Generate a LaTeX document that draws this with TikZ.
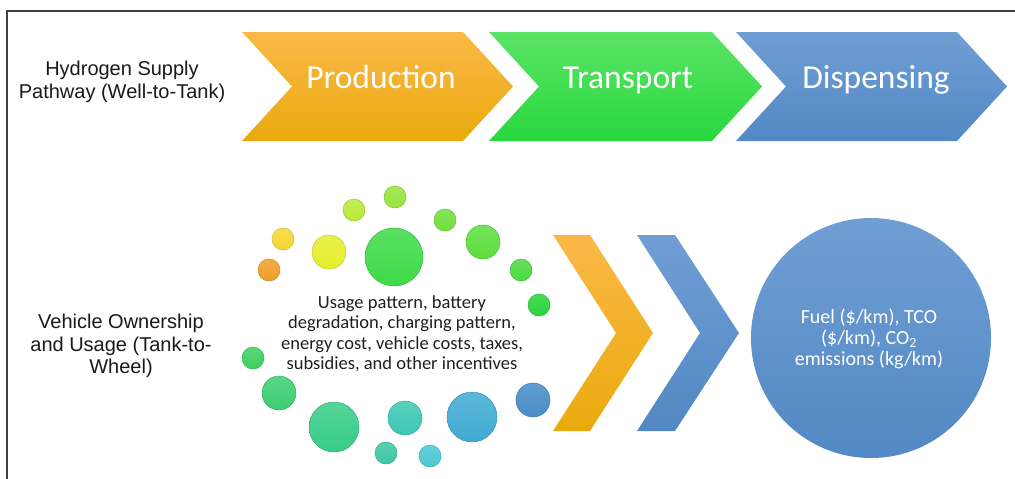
\documentclass[tikz,border=0pt]{standalone}
\usepackage{fontspec}
\setmainfont{Carlito}
\newfontfamily\sidefont{Liberation Sans}
\usepackage{tikz}

\definecolor{prodtop}{RGB}{251,184,72}
\definecolor{prodbot}{RGB}{233,170,12}
\definecolor{transtop}{RGB}{92,228,102}
\definecolor{transbot}{RGB}{40,216,62}
\definecolor{disptop}{RGB}{112,158,212}
\definecolor{dispbot}{RGB}{82,136,196}
\definecolor{bubOrange}{RGB}{240,158,40}
\definecolor{bubYellow}{RGB}{245,215,50}
\definecolor{bubLemon}{RGB}{230,238,45}
\definecolor{bubLime}{RGB}{185,232,55}
\definecolor{bubLeaf}{RGB}{150,228,60}
\definecolor{bubGreen}{RGB}{62,218,72}
\definecolor{bubGrass}{RGB}{110,225,60}
\definecolor{bubFern}{RGB}{92,222,62}
\definecolor{bubMoss}{RGB}{75,218,65}
\definecolor{bubVivid}{RGB}{40,212,60}
\definecolor{bubJade}{RGB}{60,208,95}
\definecolor{bubMint}{RGB}{60,205,115}
\definecolor{bubSea}{RGB}{55,205,135}
\definecolor{bubTeal}{RGB}{60,200,180}
\definecolor{bubLagoon}{RGB}{60,200,160}
\definecolor{bubCyan}{RGB}{75,200,212}
\definecolor{bubSky}{RGB}{65,170,210}
\definecolor{bubBlue}{RGB}{70,140,200}

\begin{document}
\begin{tikzpicture}[x=1pt,y=-1pt,
  bubble/.style={top color=#1!85!white, bottom color=#1, draw=#1!85!black, line width=0.5pt},
  chevtext/.style={text=white, anchor=base, font=\fontsize{33.5}{40}\selectfont},
  sidetext/.style={align=center, text=black!90, font=\sidefont\fontsize{20}{22.5}\selectfont},
  bodytext/.style={align=center, font=\fontsize{18.5}{20.5}\selectfont}]
\tikzstyle{every node}+=[inner sep=0pt]
\useasboundingbox (0,0) rectangle (1015,479);
\draw [black!75, line width=1.2pt] (7,479) -- (7,11) -- (1015,11);
% well-to-tank row
\draw (122,82) node (wtt) [sidetext] {Hydrogen Supply\\Pathway (Well-to-Tank)};
\shade [top color=prodtop, bottom color=prodbot] (242,32) -- (463,32) -- (513,86.5) -- (463,141) -- (242,141) -- (292,86.5) -- cycle;
\draw (381,88) node (prod) [chevtext] {Production};
\shade [top color=transtop, bottom color=transbot] (489,32) -- (712,32) -- (762,86.5) -- (712,141) -- (489,141) -- (539,86.5) -- cycle;
\draw (628,88) node (trans) [chevtext] {Transport};
\shade [top color=disptop, bottom color=dispbot] (736,32) -- (957,32) -- (1007,86.5) -- (957,141) -- (736,141) -- (786,86.5) -- cycle;
\draw (876,88) node (disp) [chevtext] {Dispensing};
% tank-to-wheel row
\draw (121,346) node (ttw) [sidetext] {Vehicle Ownership\\and Usage (Tank-to-\\Wheel)};
\shadedraw [bubble=bubOrange] (269,270) circle (11);
\shadedraw [bubble=bubYellow] (283,239) circle (11);
\shadedraw [bubble=bubLemon] (329,252) circle (17);
\shadedraw [bubble=bubLime] (354,210) circle (11);
\shadedraw [bubble=bubLeaf] (395,197) circle (11);
\shadedraw [bubble=bubGreen] (394,257) circle (29);
\shadedraw [bubble=bubGrass] (445,220) circle (11);
\shadedraw [bubble=bubFern] (483,242) circle (17);
\shadedraw [bubble=bubMoss] (521,270) circle (11);
\shadedraw [bubble=bubVivid] (539,305) circle (11);
\shadedraw [bubble=bubJade] (253,358) circle (11);
\shadedraw [bubble=bubMint] (279,393) circle (17);
\shadedraw [bubble=bubSea] (334,427) circle (25);
\shadedraw [bubble=bubTeal] (405,418) circle (17);
\shadedraw [bubble=bubSky] (472,417) circle (25);
\shadedraw [bubble=bubBlue] (533,400) circle (17);
\shadedraw [bubble=bubLagoon] (386,453) circle (11);
\shadedraw [bubble=bubCyan] (430,456) circle (11);
\draw (402,334) node (factors) [bodytext, text=black!88] {Usage pattern, battery\\degradation, charging pattern,\\energy cost, vehicle costs, taxes,\\subsidies, and other incentives};
\shade [top color=prodtop, bottom color=prodbot] (553,235) -- (590,235) -- (653,333) -- (590,431) -- (553,431) -- (616,333) -- cycle;
\shade [top color=disptop, bottom color=dispbot] (637,235) -- (675,235) -- (739,333) -- (675,431) -- (637,431) -- (700,333) -- cycle;
\shade [top color=disptop, bottom color=dispbot] (871,338) circle (120);
\draw (869,339) node (result) [align=center, text=white, font=\fontsize{20}{21}\selectfont] {Fuel (\$/km), TCO\\(\$/km), CO\textsubscript{2}\\emissions (kg/km)};
\end{tikzpicture}
\end{document}
